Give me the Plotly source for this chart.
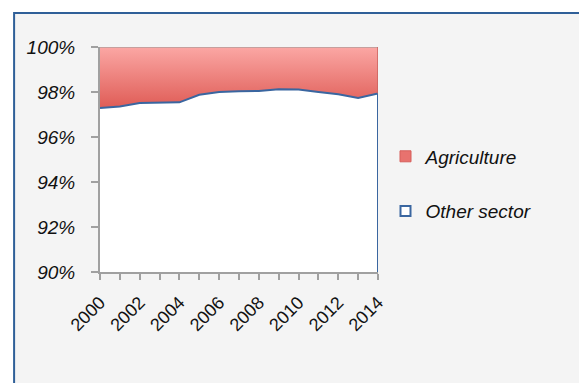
import plotly.graph_objects as go

# Share of output by sector (%), stacked to 100%
years = list(range(2000, 2015))
other_sector = [97.29, 97.36, 97.51, 97.53, 97.54, 97.88, 98.00, 98.03,
                98.05, 98.12, 98.11, 98.00, 97.90, 97.73, 97.93]
agriculture = [round(100 - v, 2) for v in other_sector]

y_ticks = [90, 92, 94, 96, 98, 100]
x_ticks = list(range(2000, 2015, 2))

FONT = "Liberation Sans, Arial, sans-serif"
BLUE = "#3a66a0"
RED_EDGE = "#c9625e"

fig = go.Figure()

fig.add_trace(go.Scatter(
    x=years, y=other_sector, stackgroup="s", mode="lines",
    line=dict(color=BLUE, width=2), fillcolor="white",
    showlegend=False, hoverinfo="skip",
))
fig.add_trace(go.Scatter(
    x=years, y=agriculture, stackgroup="s", mode="lines",
    line=dict(color="#b59c9b", width=1.5),
    fillgradient=dict(type="vertical",
                      colorscale=[[0, "#df5c56"], [1, "#fba7a4"]]),
    showlegend=False, hoverinfo="skip",
))

# Legend swatches
fig.add_trace(go.Scatter(
    x=[None], y=[None], mode="markers", name="Agriculture",
    marker=dict(symbol="square", size=11, color="#e8726e",
                line=dict(color="#d65f5a", width=1)),
    legendgroup="a",
))
fig.add_trace(go.Scatter(
    x=[None], y=[None], mode="markers", name="Other sector",
    marker=dict(symbol="square", size=10, color="white",
                line=dict(color=BLUE, width=2)),
    legendgroup="b",
))

# Outer panel
fig.add_shape(type="rect", xref="paper", yref="paper",
              x0=-0.309, x1=1.9, y0=-0.6, y1=1.151,
              fillcolor="#f4f4f4", line=dict(color="#2f5f98", width=2),
              layer="below")
# Closing edges of the stacked areas at the last year
fig.add_shape(type="line", xref="x", yref="y",
              x0=years[-1], x1=years[-1], y0=y_ticks[0], y1=other_sector[-1],
              line=dict(color=BLUE, width=2))
fig.add_shape(type="line", xref="x", yref="y",
              x0=years[-1], x1=years[-1], y0=other_sector[-1], y1=100,
              line=dict(color=RED_EDGE, width=1.5))

fig.update_layout(
    width=579, height=383,
    margin=dict(l=100, r=201, t=47, b=111),
    paper_bgcolor="white", plot_bgcolor="white",
    font=dict(family=FONT, color="#111111"),
    legend=dict(x=1.027, y=0.598, xanchor="left", yanchor="top",
                font=dict(size=19, family=FONT, style="italic"),
                bgcolor="rgba(0,0,0,0)", tracegroupgap=27,
                itemwidth=30),
    xaxis=dict(range=[years[0], years[-1]], tickmode="array",
               tickvals=x_ticks, ticktext=[str(t) for t in x_ticks],
               tickangle=-45, tickfont=dict(size=18),
               ticks="outside", ticklen=6, tickwidth=1.5, tickcolor="#a0a0a0",
               ticklabelstandoff=5,
               minor=dict(dtick=1, ticks="outside", ticklen=6,
                          tickwidth=1.5, tickcolor="#a0a0a0"),
               showline=True, linecolor="#a0a0a0", linewidth=2,
               showgrid=False, zeroline=False, fixedrange=True),
    yaxis=dict(range=[90, 100], tickmode="array", tickvals=y_ticks,
               ticktext=[f"{t}%" for t in y_ticks],
               tickfont=dict(size=19, style="italic"),
               ticks="outside", ticklen=7, tickwidth=1.5, tickcolor="#a0a0a0",
               ticklabelstandoff=12,
               showline=True, linecolor="#a0a0a0", linewidth=2,
               showgrid=False, zeroline=False, fixedrange=True),
)

fig.write_html("out.html")
